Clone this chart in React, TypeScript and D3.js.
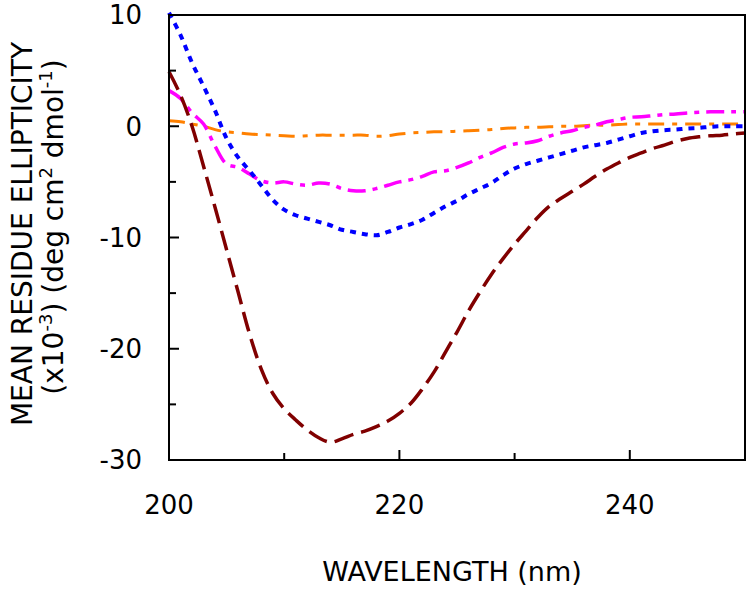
import React from "react";
import * as d3 from "d3";

// wavelength grid (nm)
const wavelengths = d3.range(200, 251);

// mean residue ellipticity (x10^-3), one value per nm 200..250
const darkRed = [
  4.9, 2.8, 0, -3.6, -7.3, -11.1, -14.9, -18.7, -21.8, -24.0,
  -25.4, -26.4, -27.3, -28.0, -28.4, -28.1, -27.7, -27.4, -27.0, -26.5,
  -25.8, -24.9, -23.6, -22.1, -20.3, -18.5, -16.6, -14.9, -13.3, -11.9,
  -10.6, -9.4, -8.2, -7.2, -6.5, -5.85, -5.2, -4.5, -3.85, -3.3,
  -2.8, -2.4, -2.0, -1.7, -1.35, -1.1, -0.95, -0.85, -0.8, -0.7,
  -0.6,
];
const blue = [
  10.2, 8.2, 5.7, 3.6, 1.4, -1.1, -2.8, -4.0, -5.3, -6.6,
  -7.5, -8.0, -8.3, -8.6, -8.9, -9.3, -9.5, -9.7, -9.8, -9.5,
  -9.1, -8.8, -8.4, -7.8, -7.2, -6.7, -6.1, -5.6, -5.1, -4.4,
  -3.8, -3.4, -3.1, -2.8, -2.5, -2.2, -1.9, -1.7, -1.5, -1.2,
  -0.9, -0.6, -0.45, -0.35, -0.3, -0.2, -0.15, -0.05, 0, 0,
  0,
];
const magenta = [
  3.2, 2.5, 1.2, 0.2, -1.8, -3.4, -3.7, -4.3, -4.9, -5.1,
  -5.0, -5.2, -5.3, -5.1, -5.2, -5.6, -5.8, -5.8, -5.6, -5.3,
  -5.0, -4.8, -4.5, -4.1, -4.0, -3.7, -3.3, -2.8, -2.4, -1.9,
  -1.6, -1.5, -1.3, -0.9, -0.6, -0.4, -0.1, 0.1, 0.4, 0.6,
  0.8, 0.85, 0.95, 1.05, 1.1, 1.2, 1.25, 1.3, 1.3, 1.3,
  1.3,
];
const orange = [
  0.5, 0.4, 0.2, 0, -0.3, -0.5, -0.6, -0.7, -0.75, -0.8,
  -0.85, -0.9, -0.85, -0.8, -0.8, -0.8, -0.8, -0.8, -0.9, -0.85,
  -0.7, -0.6, -0.55, -0.5, -0.5, -0.45, -0.4, -0.35, -0.3, -0.2,
  -0.15, -0.1, -0.1, -0.05, 0, 0, 0.05, 0.1, 0.1, 0.15,
  0.2, 0.2, 0.2, 0.2, 0.2, 0.2, 0.2, 0.2, 0.2, 0.2,
  0.2,
];

const xMajor = [200, 220, 240];
const xMinor = [210, 230, 250];
const yMajor = [10, 0, -10, -20, -30];
const yMinor = [5, -5, -15, -25];

const series = [
  { name: "orange", values: orange, color: "#ff8000", width: 3, dash: "16,8,5,8" },
  { name: "magenta", values: magenta, color: "#ff00ff", width: 3.5, dash: "18,7,5,7" },
  { name: "blue", values: blue, color: "#0000ff", width: 4, dash: "6,6" },
  { name: "darkRed", values: darkRed, color: "#800000", width: 3.5, dash: "20,8" },
];

const W = 754;
const H = 592;
const left = 169;
const right = 745;
const top = 15;
const bottom = 460;

export default function App() {
  const x = d3.scaleLinear().domain([200, 250]).range([left, right]);
  const y = d3.scaleLinear().domain([-30, 10]).range([bottom, top]);

  const line = d3
    .line<number>()
    .x((_, i) => x(wavelengths[i]))
    .y((d) => y(d))
    .curve(d3.curveCatmullRom.alpha(0.5));

  const font = "'DejaVu Sans', Verdana, sans-serif";

  return (
    <div style={{ position: "absolute", left: 0, top: 0 }}>
      <svg width={W} height={H} style={{ display: "block" }} fontFamily={font}>
        <rect width={W} height={H} fill="#fff" />

        {/* data lines */}
        {series.map((s) => (
          <path
            key={s.name}
            d={line(s.values) || ""}
            fill="none"
            stroke={s.color}
            strokeWidth={s.width}
            strokeDasharray={s.dash}
          />
        ))}

        {/* frame */}
        <rect
          x={left}
          y={top}
          width={right - left}
          height={bottom - top}
          fill="none"
          stroke="#000"
          strokeWidth={2}
        />

        {/* y ticks (inside) */}
        {yMajor.map((v) => (
          <line key={"ym" + v} x1={left} x2={left + 10} y1={y(v)} y2={y(v)} stroke="#000" strokeWidth={2} />
        ))}
        {yMinor.map((v) => (
          <line key={"yn" + v} x1={left} x2={left + 7} y1={y(v)} y2={y(v)} stroke="#000" strokeWidth={2} />
        ))}
        {yMajor.map((v) => (
          <text key={"yl" + v} x={142} y={y(v)} dy="0.36em" textAnchor="end" fontSize={26} fill="#000">
            {v}
          </text>
        ))}

        {/* x ticks (inside) */}
        {xMajor.map((v) => (
          <line key={"xm" + v} x1={x(v)} x2={x(v)} y1={bottom} y2={bottom - 10} stroke="#000" strokeWidth={2} />
        ))}
        {xMinor.map((v) => (
          <line key={"xn" + v} x1={x(v)} x2={x(v)} y1={bottom} y2={bottom - 7} stroke="#000" strokeWidth={2} />
        ))}
        {xMajor.map((v) => (
          <text key={"xl" + v} x={x(v)} y={514} textAnchor="middle" fontSize={26} fill="#000">
            {v}
          </text>
        ))}

        {/* axis titles */}
        <text x={452} y={581} textAnchor="middle" fontSize={27} fill="#000">
          WAVELENGTH (nm)
        </text>
        <text transform="translate(32,234) rotate(-90)" textAnchor="middle" fontSize={28} fill="#000">
          MEAN RESIDUE ELLIPTICITY
        </text>
        <text transform="translate(63,227) rotate(-90)" textAnchor="middle" fontSize={28} fill="#000">
          (x10<tspan fontSize={18} dy={-11}>-3</tspan>
          <tspan dy={11}>) (deg cm</tspan>
          <tspan fontSize={18} dy={-11}>2</tspan>
          <tspan dy={11}> dmol</tspan>
          <tspan fontSize={18} dy={-11}>-1</tspan>
          <tspan dy={11}>)</tspan>
        </text>
      </svg>
    </div>
  );
}
